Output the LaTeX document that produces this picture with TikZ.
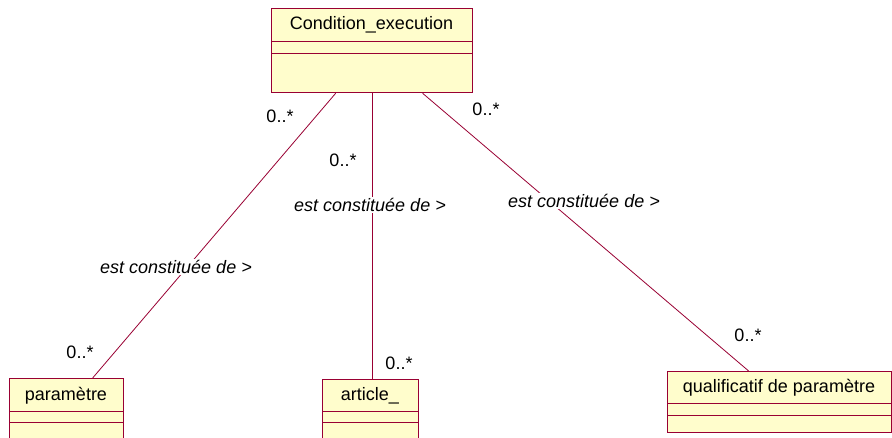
\documentclass[tikz,border=0pt]{standalone}
\usepackage{fontspec}
\setmainfont{Liberation Sans}
\definecolor{umlborder}{RGB}{153,0,51}
\definecolor{umlfill}{RGB}{255,253,204}
\begin{document}
\begin{tikzpicture}[x=1pt,y=-1pt,
  classbox/.style={draw=umlborder,fill=umlfill,line width=1.3pt,inner sep=0pt,anchor=north west},
  compart/.style={draw=umlborder,line width=0.8pt},
  classname/.style={font=\fontsize{18}{21}\selectfont,inner sep=0pt},
  assoc/.style={draw=umlborder,line width=0.8pt},
  mult/.style={font=\fontsize{18}{21}\selectfont,inner sep=0pt},
  rolename/.style={font=\fontsize{18}{21}\selectfont\itshape,fill=white,inner sep=1pt}]
\useasboundingbox (0,0) rectangle (892,438);
\fill[white] (0,0) rectangle (892,438);
\begin{scope}
\clip (0,0) rectangle (892,438);

% class Condition_execution
\node[classbox,minimum width=201pt,minimum height=84pt] (cond) at (271,8) {};
\draw[compart] (271,41) -- (472,41);
\draw[compart] (271,53) -- (472,53);
\node[classname] (condname) at (371.5,25) {Condition\_execution};

% class paramètre (continues below the page edge)
\node[classbox,minimum width=114pt,minimum height=80pt] (param) at (9,378) {};
\draw[compart] (9,411) -- (123,411);
\draw[compart] (9,422) -- (123,422);
\node[classname] (paramname) at (66,396) {paramètre};

% class article_
\node[classbox,minimum width=96pt,minimum height=80pt] (art) at (322,379) {};
\draw[compart] (322,411) -- (418,411);
\draw[compart] (322,422) -- (418,422);
\node[classname] (artname) at (370,396) {article\_};

% class qualificatif de paramètre
\node[classbox,minimum width=224pt,minimum height=61pt] (qual) at (667,371) {};
\draw[compart] (667,403) -- (891,403);
\draw[compart] (667,415) -- (891,415);
\node[classname] (qualname) at (779,388) {qualificatif de paramètre};

% associations
\draw[assoc] ([xshift=-36.5pt]cond.south) -- ([xshift=26pt]param.north);
\draw[assoc] ([xshift=0.5pt]cond.south) -- ([xshift=2pt]art.north);
\draw[assoc] ([xshift=50.5pt]cond.south) -- ([xshift=-31pt]qual.north);

% role names
\node[rolename] (r1) at (176,267) {est constituée de >};
\node[rolename] (r2) at (370,205) {est constituée de >};
\node[rolename] (r3) at (584,201) {est constituée de >};

% multiplicities
\node[mult] (m1) at (280,116) {0..*};
\node[mult] (m2) at (343,160) {0..*};
\node[mult] (m3) at (486,109) {0..*};
\node[mult] (m4) at (80,352) {0..*};
\node[mult] (m5) at (399,363) {0..*};
\node[mult] (m6) at (748,335) {0..*};
\end{scope}
\end{tikzpicture}
\end{document}
